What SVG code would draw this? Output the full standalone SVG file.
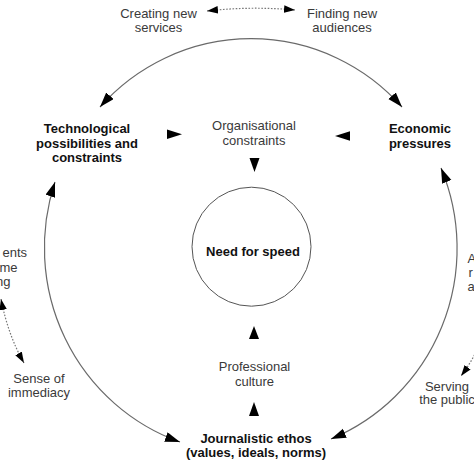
<svg xmlns="http://www.w3.org/2000/svg" width="474" height="474" viewBox="0 0 474 474">
<style>
text{font-family:"Liberation Sans",Arial,sans-serif;font-size:13px;text-anchor:middle}
.r{fill:#3a3a3a}
.b{fill:#111;font-weight:bold}
.arc{fill:none;stroke:#6a6a6a;stroke-width:1.2}
.dot{fill:none;stroke:#777;stroke-width:1.2;stroke-dasharray:1.6 1.6}
.head{fill:#000}
</style>
<defs>
<marker id="ah" markerUnits="userSpaceOnUse" markerWidth="16" markerHeight="12" refX="15" refY="5" orient="auto-start-reverse" viewBox="0 0 16 12">
<path d="M0,0 L15,5 L0,10 z" fill="#000"/>
</marker>
<marker id="sh" markerUnits="userSpaceOnUse" markerWidth="12" markerHeight="9" refX="11" refY="3.75" orient="auto-start-reverse" viewBox="0 0 12 9">
<path d="M0,0 L11,3.75 L0,7.5 z" fill="#000"/>
</marker>
</defs>
<rect width="474" height="474" fill="#fff"/>
<g id="connectors">
<path class="arc" d="M100,107 A203 206 0 0 1 402,107" marker-start="url(#ah)" marker-end="url(#ah)"/>
<path class="arc" d="M55,182 A203 206 0 0 0 180,442" marker-start="url(#ah)" marker-end="url(#ah)"/>
<path class="arc" d="M441,168 A203 206 0 0 1 331,439" marker-start="url(#ah)" marker-end="url(#ah)"/>
<path class="dot" d="M207,11 Q251,6 295,10" marker-start="url(#sh)" marker-end="url(#sh)"/>
<path class="dot" d="M1,299 Q8,335 24,363" marker-start="url(#sh)" marker-end="url(#sh)"/>
<path class="dot" d="M476,352 Q470,364 461,376" marker-end="url(#sh)"/>
<polygon class="head" points="167,129.5 182,134.3 167,139"/>
<polygon class="head" points="335,136 350,131.3 350,140.7"/>
<polygon class="head" points="249.5,158 259.5,158 254.5,172"/>
<polygon class="head" points="254,326 249,339 259,339"/>
<polygon class="head" points="254,402 249,416 259,416"/>
</g>
<g id="need">
<circle cx="251.5" cy="246.7" r="59.5" fill="none" stroke="#555" stroke-width="1"/>
<text class="b" x="253" y="256">Need for speed</text>
</g>
<g id="creating"><text class="r" x="158.5" y="18">Creating new</text><text class="r" x="158.5" y="32">services</text></g>
<g id="finding"><text class="r" x="342" y="18">Finding new</text><text class="r" x="342" y="32">audiences</text></g>
<g id="tech"><text class="b" x="87" y="133">Technological</text><text class="b" x="87" y="147.7">possibilities and</text><text class="b" x="87" y="162.4">constraints</text></g>
<g id="org"><text class="r" x="254" y="130">Organisational</text><text class="r" x="254" y="145">constraints</text></g>
<g id="econ"><text class="b" x="420" y="133.3">Economic</text><text class="b" x="420" y="148.3">pressures</text></g>
<g id="prof"><text class="r" x="254.5" y="371">Professional</text><text class="r" x="254.5" y="385.5">culture</text></g>
<g id="ethos"><text class="b" x="256" y="442.5">Journalistic ethos</text><text class="b" x="256" y="456.5">(values, ideals, norms)</text></g>
<g id="sense"><text class="r" x="39" y="383">Sense of</text><text class="r" x="39" y="397">immediacy</text></g>
<g id="serving"><text class="r" x="447" y="390.5">Serving</text><text class="r" x="447" y="404">the public</text></g>
<g id="leftcut"><text class="r" x="27" y="257" style="text-anchor:end">ents</text><text class="r" x="17.5" y="271.5" style="text-anchor:end">me</text><text class="r" x="10.5" y="285.5" style="text-anchor:end">ng</text></g>
<g id="rightcut"><text class="r" x="467.5" y="263" style="text-anchor:start">A</text><text class="r" x="468.5" y="277" style="text-anchor:start">r</text><text class="r" x="467.5" y="291" style="text-anchor:start">a</text></g>
</svg>
